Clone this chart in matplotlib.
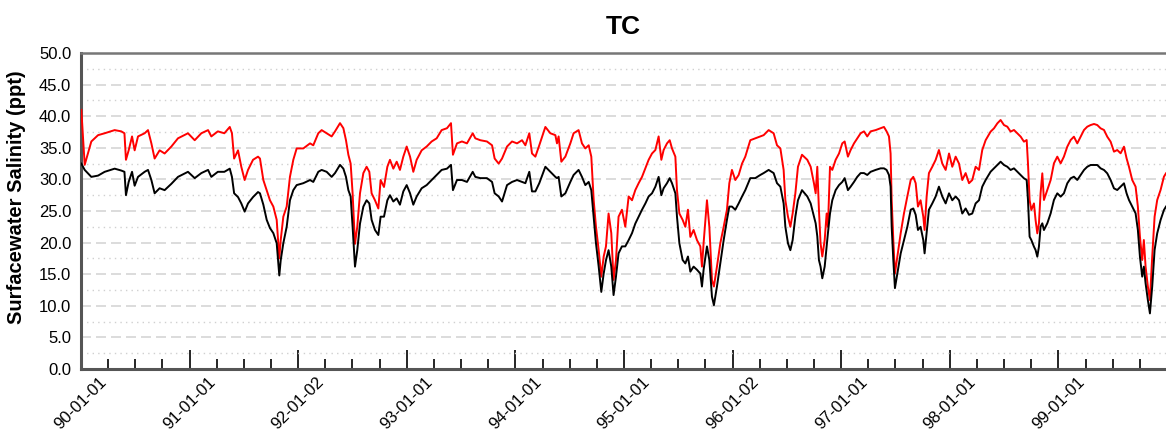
import numpy as np
import pandas as pd
import matplotlib
matplotlib.use('Agg')
import matplotlib.pyplot as plt

plt.rcParams['font.family'] = ['Liberation Sans', 'DejaVu Sans']

# time in years since 1990-01-01, red (upper) and black (lower) salinity, ppt
t_years = [
    0.003, 0.034, 0.095, 0.157, 0.218, 0.31, 0.371, 0.40, 0.414, 0.439, 0.47, 0.494, 0.525, 0.586,
    0.617, 0.648, 0.678, 0.724, 0.77, 0.832, 0.893, 0.985, 1.047, 1.108, 1.17, 1.2, 1.26, 1.32,
    1.37, 1.39, 1.41, 1.446, 1.476, 1.507, 1.538, 1.584, 1.63,
    1.648, 1.679, 1.71, 1.74, 1.771, 1.802, 1.826, 1.839, 1.863, 1.894, 1.924, 1.955, 1.986, 2.047,
    2.109, 2.139, 2.185, 2.216, 2.262, 2.308, 2.339, 2.385, 2.416, 2.44, 2.462, 2.483, 2.501, 2.523,
    2.544, 2.569, 2.6, 2.63, 2.655, 2.676, 2.707, 2.738, 2.759, 2.79, 2.821, 2.845, 2.876, 2.907,
    2.937, 2.968, 2.999, 3.03, 3.06, 3.091, 3.137, 3.183, 3.229, 3.275, 3.321,
    3.37, 3.407, 3.425, 3.462, 3.508, 3.554, 3.607, 3.631, 3.677, 3.738, 3.785, 3.809, 3.846, 3.877,
    3.923, 3.969, 4.015, 4.061, 4.092, 4.128, 4.153, 4.184, 4.22, 4.276, 4.322, 4.368, 4.383, 4.398,
    4.423, 4.46, 4.506, 4.536, 4.582, 4.613, 4.644, 4.675, 4.699, 4.721, 4.742, 4.767, 4.791, 4.813,
    4.834, 4.858, 4.883, 4.904, 4.926, 4.95, 4.981,
    5.012, 5.043, 5.074, 5.104, 5.135, 5.166, 5.197, 5.227, 5.258, 5.289, 5.319, 5.344, 5.365, 5.396,
    5.421, 5.442, 5.473, 5.488, 5.51, 5.54, 5.565, 5.589, 5.611, 5.641, 5.672, 5.703, 5.718, 5.733,
    5.764, 5.786, 5.81, 5.828, 5.856, 5.887, 5.918, 5.948, 5.97, 5.994, 6.025, 6.056, 6.087, 6.117,
    6.163, 6.209, 6.255, 6.286, 6.332, 6.378, 6.409, 6.44, 6.47, 6.486, 6.51, 6.532, 6.553, 6.578,
    6.602, 6.639,
    6.688, 6.719, 6.749, 6.765, 6.78, 6.795, 6.81, 6.826, 6.848, 6.866, 6.878, 6.897, 6.918, 6.949,
    6.98, 7.01, 7.032, 7.062, 7.087, 7.118, 7.148, 7.179, 7.21, 7.24, 7.271, 7.317, 7.363, 7.394,
    7.418, 7.44, 7.455, 7.465, 7.48, 7.495, 7.517, 7.548, 7.578, 7.609, 7.64, 7.664, 7.686, 7.707,
    7.731, 7.756, 7.768, 7.787, 7.808, 7.839, 7.87, 7.9, 7.931, 7.962, 7.993, 8.023, 8.054, 8.085,
    8.115, 8.146, 8.177, 8.207, 8.238, 8.269, 8.299, 8.33,
    8.376, 8.407, 8.438, 8.468, 8.499, 8.53, 8.56, 8.591, 8.622, 8.653, 8.683, 8.708, 8.72, 8.735,
    8.751, 8.775, 8.79, 8.806, 8.821, 8.836, 8.852, 8.867, 8.898, 8.929, 8.959, 8.99, 9.021, 9.051,
    9.082, 9.113, 9.143, 9.174, 9.205, 9.236, 9.266, 9.297, 9.328, 9.358, 9.389, 9.42, 9.45, 9.481,
    9.512, 9.542, 9.573, 9.604, 9.628, 9.65, 9.68, 9.711, 9.732, 9.751, 9.772, 9.787, 9.803, 9.824,
    9.843, 9.864, 9.886, 9.91, 9.941, 9.972, 9.991,
]

red = [
    41.0, 32.3, 36.0, 37.0, 37.3, 37.8, 37.6, 37.3, 33.1, 34.6, 36.8, 34.6, 36.8, 37.3,
    37.8, 35.7, 33.3, 34.6, 34.1, 35.2, 36.5, 37.3, 36.2, 37.3, 37.8, 36.8, 37.6, 37.3,
    38.3, 37.3, 33.3, 34.6, 32.0, 29.9, 31.5, 33.1, 33.6,
    33.3, 29.9, 28.3, 26.7, 25.7, 23.6, 17.5, 20.4, 24.1, 25.7, 30.4, 33.1, 34.9, 34.9,
    35.7, 35.4, 37.3, 37.8, 37.3, 36.8, 37.6, 38.9, 38.1, 36.2, 33.9, 32.5, 27.8, 19.8,
    22.5, 27.8, 31.0, 32.0, 31.2, 27.8, 26.7, 25.4, 29.9, 28.8, 32.0, 33.1, 31.7, 32.8,
    31.5, 33.6, 35.2, 33.6, 31.2, 33.1, 34.6, 35.2, 36.0, 36.5, 37.8,
    38.1, 38.9, 33.9, 35.7, 36.0, 35.7, 37.3, 36.5, 36.2, 36.0, 35.4, 33.3, 32.5, 33.3,
    35.2, 36.0, 35.7, 36.2, 35.4, 37.3, 34.1, 33.6, 35.4, 38.3, 37.3, 37.0, 35.7, 36.8,
    32.8, 33.6, 35.7, 37.3, 37.8, 35.7, 34.9, 35.4, 33.6, 26.7, 22.5, 18.8, 14.6, 17.8,
    19.4, 24.6, 21.5, 14.1, 17.2, 24.1, 25.2,
    22.5, 27.3, 26.7, 28.3, 29.4, 30.4, 31.75, 33.1, 34.1, 34.65, 36.8, 33.1, 34.65, 35.7,
    36.2, 34.9, 33.6, 28.3, 24.6, 23.6, 22.5, 25.2, 20.9, 22.0, 20.4, 19.4, 16.2, 19.9,
    26.7, 22.5, 14.1, 13.05, 16.2, 19.9, 22.5, 25.2, 29.4, 31.5, 29.9, 30.7, 32.5, 33.6,
    36.2, 36.5, 36.8, 37.0, 37.8, 37.3, 35.4, 34.9, 31.5, 26.7, 24.1, 22.5, 24.6, 27.8,
    32.0, 33.9,
    33.1, 32.0, 29.4, 27.8, 32.0, 25.2, 19.9, 17.8, 20.4, 24.6, 22.5, 32.0, 31.5, 33.1,
    34.1, 35.7, 36.0, 33.6, 34.65, 35.7, 36.5, 37.3, 37.6, 36.8, 37.6, 37.8, 38.1, 38.3,
    37.6, 36.8, 34.1, 26.7, 20.4, 15.1, 17.8, 21.5, 24.6, 27.3, 29.9, 30.4, 29.4, 25.7,
    26.7, 24.1, 22.0, 27.3, 31.0, 32.0, 33.1, 34.65, 32.5, 31.5, 34.1, 32.0, 33.6, 32.5,
    29.9, 31.0, 29.4, 29.9, 32.0, 31.5, 34.65, 36.2,
    37.56, 38.08, 38.87, 39.4, 38.6, 38.34, 37.56, 37.82, 37.3, 36.76, 35.97, 36.23, 32.54, 26.74,
    25.16, 26.2, 23.57, 21.46, 23.05, 27.8, 30.96, 26.74, 28.32, 29.91, 32.54, 33.6, 32.54, 33.6,
    35.18, 36.23, 36.76, 35.7, 36.76, 37.82, 38.34, 38.6, 38.77, 38.6, 38.08, 37.82, 36.76, 35.97,
    34.39, 34.65, 34.13, 35.18, 33.33, 32.0, 29.91, 28.85, 25.7, 20.94, 17.25, 20.41, 16.2, 13.05,
    10.9, 17.77, 24.1, 26.74, 28.32, 30.43, 30.96,
]

black = [
    32.5, 31.5, 30.4, 30.6, 31.2, 31.7, 31.4, 31.2, 27.5, 29.6, 31.2, 29.0, 30.4, 31.2,
    31.5, 29.9, 27.8, 28.6, 28.3, 29.3, 30.4, 31.2, 30.2, 31.0, 31.5, 30.4, 31.2, 31.2,
    31.7, 30.4, 27.8, 27.2, 26.2, 24.9, 26.2, 27.2, 28.0,
    27.8, 26.0, 23.6, 22.3, 21.5, 19.9, 14.8, 17.2, 19.9, 22.5, 26.7, 28.3, 29.1, 29.4,
    29.9, 29.6, 31.2, 31.5, 31.2, 30.4, 31.0, 32.3, 31.7, 30.4, 28.3, 27.3, 22.5, 16.2,
    18.8, 23.0, 25.7, 26.7, 26.2, 23.6, 22.0, 21.2, 24.1, 24.1, 26.7, 27.5, 26.5, 27.0,
    26.0, 28.1, 29.1, 27.8, 26.0, 27.3, 28.6, 29.1, 29.9, 30.7, 31.5,
    31.7, 32.3, 28.3, 29.9, 29.9, 29.6, 31.2, 30.4, 30.2, 30.2, 29.6, 27.8, 27.3, 26.5,
    29.1, 29.6, 29.9, 29.6, 29.4, 31.2, 28.1, 28.1, 29.4, 32.0, 31.2, 30.4, 30.2, 30.4,
    27.3, 27.8, 29.6, 30.7, 31.5, 30.4, 29.1, 29.6, 28.3, 24.1, 19.9, 16.2, 12.2, 15.1,
    17.2, 18.8, 16.2, 11.7, 14.6, 18.3, 19.4,
    19.4, 20.4, 21.5, 23.0, 24.1, 25.2, 26.2, 27.3, 27.8, 28.85, 30.4, 27.5, 28.6, 29.4,
    30.2, 29.4, 27.8, 24.1, 19.9, 17.25, 16.7, 17.8, 15.4, 16.2, 15.7, 15.1, 13.05, 15.7,
    19.4, 17.25, 11.45, 10.1, 13.05, 16.7, 20.4, 23.6, 25.7, 25.7, 25.2, 26.2, 27.3, 28.3,
    30.2, 30.2, 30.7, 31.0, 31.5, 31.0, 29.4, 28.85, 26.2, 22.5, 19.9, 18.8, 20.4, 24.1,
    26.7, 28.3,
    27.3, 26.2, 24.1, 23.05, 21.0, 17.25, 16.2, 14.35, 16.2, 19.4, 21.5, 24.6, 26.7, 28.3,
    29.1, 29.6, 30.2, 28.3, 28.85, 29.6, 30.4, 31.0, 31.0, 30.7, 31.2, 31.5, 31.75, 31.75,
    31.5, 30.7, 28.85, 22.5, 17.25, 12.8, 15.1, 18.3, 20.4, 22.5, 25.2, 25.4, 24.4, 22.0,
    22.5, 20.4, 18.3, 21.5, 25.2, 26.2, 27.3, 28.85, 27.3, 26.2, 27.8, 26.7, 27.3, 26.7,
    24.6, 25.4, 24.4, 24.6, 26.2, 26.7, 28.85, 29.9,
    31.22, 31.75, 32.28, 32.8, 32.28, 32.0, 31.49, 31.75, 31.22, 30.7, 30.17, 29.91, 26.74, 20.94,
    20.41, 19.36, 18.83, 17.77, 19.36, 22.52, 23.05, 21.99, 23.05, 24.63, 26.74, 27.8, 27.27, 27.8,
    29.38, 30.17, 30.43, 29.91, 30.7, 31.49, 32.0, 32.28, 32.28, 32.28, 31.75, 31.49, 30.96, 29.91,
    28.58, 28.32, 28.85, 29.38, 27.8, 26.74, 25.7, 24.63, 21.99, 17.77, 14.61, 16.2, 13.56, 10.9,
    8.8, 13.05, 18.83, 21.46, 23.57, 25.16, 25.7,
]

tick_labels = ['90-01-01', '91-01-01', '92-01-02', '93-01-01', '94-01-01',
               '95-01-01', '96-01-02', '97-01-01', '98-01-01', '99-01-01']

start = pd.Timestamp('1990-01-01')
dates = start + pd.to_timedelta(np.array(t_years) * 365.25, unit='D')

fig = plt.figure(figsize=(11.66, 4.41), dpi=100)
ax = fig.add_axes([81 / 1166, 1 - 369 / 441, 1 - 81 / 1166, (369 - 53) / 441])

ax.plot(dates, red, color='#ff0000', lw=1.4, zorder=3)
ax.plot(dates, black, color='black', lw=1.4, zorder=4)

ax.set_xlim(start, start + pd.Timedelta(days=9.991 * 365.25))
ax.set_ylim(0, 50)

# x ticks: yearly major, quarterly minor
major = [start + pd.Timedelta(days=k * 365.25) for k in range(10)]
minor = [start + pd.Timedelta(days=k * 365.25 + q * 365.25 / 4)
         for k in range(10) for q in (1, 2, 3)]
ax.set_xticks(major)
ax.set_xticklabels(tick_labels, rotation=45, ha='center', fontsize=12)
ax.set_xticks(minor, minor=True)
ax.tick_params(axis='x', which='major', direction='in', length=14, width=1.2, pad=4)
ax.tick_params(axis='x', which='minor', direction='in', length=7, width=1.2)

ax.set_yticks(np.arange(0, 50.1, 5))
ax.set_yticks(np.arange(2.5, 50, 5), minor=True)
ax.set_yticklabels(['%.1f' % v for v in np.arange(0, 50.1, 5)], fontsize=12)
ax.tick_params(axis='y', which='both', length=0, pad=7)

ax.grid(axis='y', which='major', linestyle=(0, (6, 3)), color='#d6d6d6', lw=1.2)
ax.grid(axis='y', which='minor', linestyle=(0, (1, 3)), color='#d0d0d0', lw=1.0)
ax.set_axisbelow(True)

for s in ['left', 'bottom']:
    ax.spines[s].set_color('#555555')
    ax.spines[s].set_linewidth(2.2)
ax.spines['top'].set_color('#777777')
ax.spines['top'].set_linewidth(1.8)
ax.spines['right'].set_visible(False)

ax.set_ylabel('Surfacewater Salinity (ppt)', fontsize=14.5, fontweight='bold')
ax.yaxis.set_label_coords(-0.051, 0.545)
ax.set_title('TC', fontsize=19, fontweight='bold', pad=14)

plt.savefig('out.png', dpi=100)
